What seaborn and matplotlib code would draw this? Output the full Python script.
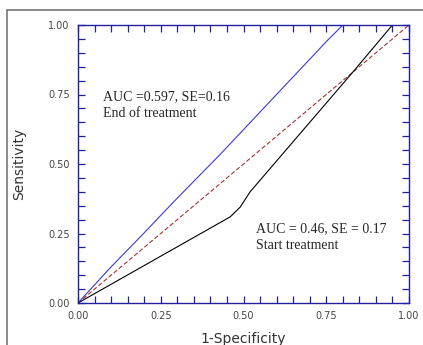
import matplotlib
matplotlib.use("Agg")
import matplotlib.pyplot as plt
import seaborn as sns
import pandas as pd
from matplotlib.ticker import MultipleLocator
from matplotlib.lines import Line2D

# Data
end_fpr = [0.0, 0.10, 0.19, 0.29, 0.43, 0.75, 0.80, 1.00]
end_tpr = [0.0, 0.13, 0.24, 0.365, 0.535, 0.94, 1.00, 1.00]
start_fpr = [0.0, 0.46, 0.49, 0.52, 0.83, 0.95, 1.00]
start_tpr = [0.0, 0.31, 0.345, 0.40, 0.83, 1.00, 1.00]
ref_fpr = [0.0, 1.0]
ref_tpr = [0.0, 1.0]
ticks = [0.0, 0.25, 0.5, 0.75, 1.0]
tick_labels = ["0.00", "0.25", "0.50", "0.75", "1.00"]
end_label = "AUC =0.597, SE=0.16\nEnd of treatment"
start_label = "AUC = 0.46, SE = 0.17\nStart treatment"

sns.set_style("white")
plt.rcParams["font.family"] = ["DejaVu Sans"]

fig = plt.figure(figsize=(4.23, 3.45), dpi=100)
ax = fig.add_axes([78/423, 1-303/345, (409-78)/423, (303-25)/345])

df_end = pd.DataFrame({"x": end_fpr, "y": end_tpr})
df_start = pd.DataFrame({"x": start_fpr, "y": start_tpr})
df_ref = pd.DataFrame({"x": ref_fpr, "y": ref_tpr})

sns.lineplot(data=df_ref, x="x", y="y", ax=ax, color="#a83232", lw=0.8,
             linestyle=(0, (4, 2)), sort=False, estimator=None)
sns.lineplot(data=df_start, x="x", y="y", ax=ax, color="black", lw=0.8,
             sort=False, estimator=None)
sns.lineplot(data=df_end, x="x", y="y", ax=ax, color="#3a3ad0", lw=0.8,
             sort=False, estimator=None)

ax.set_xlim(0, 1)
ax.set_ylim(0, 1)
ax.set_xticks(ticks)
ax.set_xticklabels(tick_labels)
ax.set_yticks(ticks)
ax.set_yticklabels(tick_labels)
ax.xaxis.set_minor_locator(MultipleLocator(0.05))
ax.yaxis.set_minor_locator(MultipleLocator(0.05))
spine_col = "#2020a0"
for s in ax.spines.values():
    s.set_color(spine_col)
    s.set_linewidth(1.0)
    s.set_visible(True)
ax.tick_params(which="both", direction="in", top=True, right=True,
               bottom=True, left=True, color=spine_col, width=0.9)
ax.tick_params(which="major", length=5, labelsize=7, labelcolor="#444444", pad=6)
ax.tick_params(which="minor", length=5)
ax.set_xlabel("1-Specificity", fontsize=10, color="#333333", labelpad=8)
ax.set_ylabel("Sensitivity", fontsize=10, color="#333333", labelpad=16)

ax.text(0.076, 0.712, end_label, transform=ax.transAxes, fontsize=10,
        family=["Liberation Serif"], va="center", ha="left", linespacing=1.4)
ax.text(0.538, 0.236, start_label, transform=ax.transAxes, fontsize=10,
        family=["Liberation Serif"], va="center", ha="left", linespacing=1.4)

# outer frame (left and top borders)
fig.add_artist(Line2D([7/423, 7/423], [0, 1-10/345], transform=fig.transFigure,
                      color="#777777", lw=1.2))
fig.add_artist(Line2D([7/423, 1], [1-10/345, 1-10/345], transform=fig.transFigure,
                      color="#777777", lw=1.2))

fig.savefig("out.png", dpi=100)
